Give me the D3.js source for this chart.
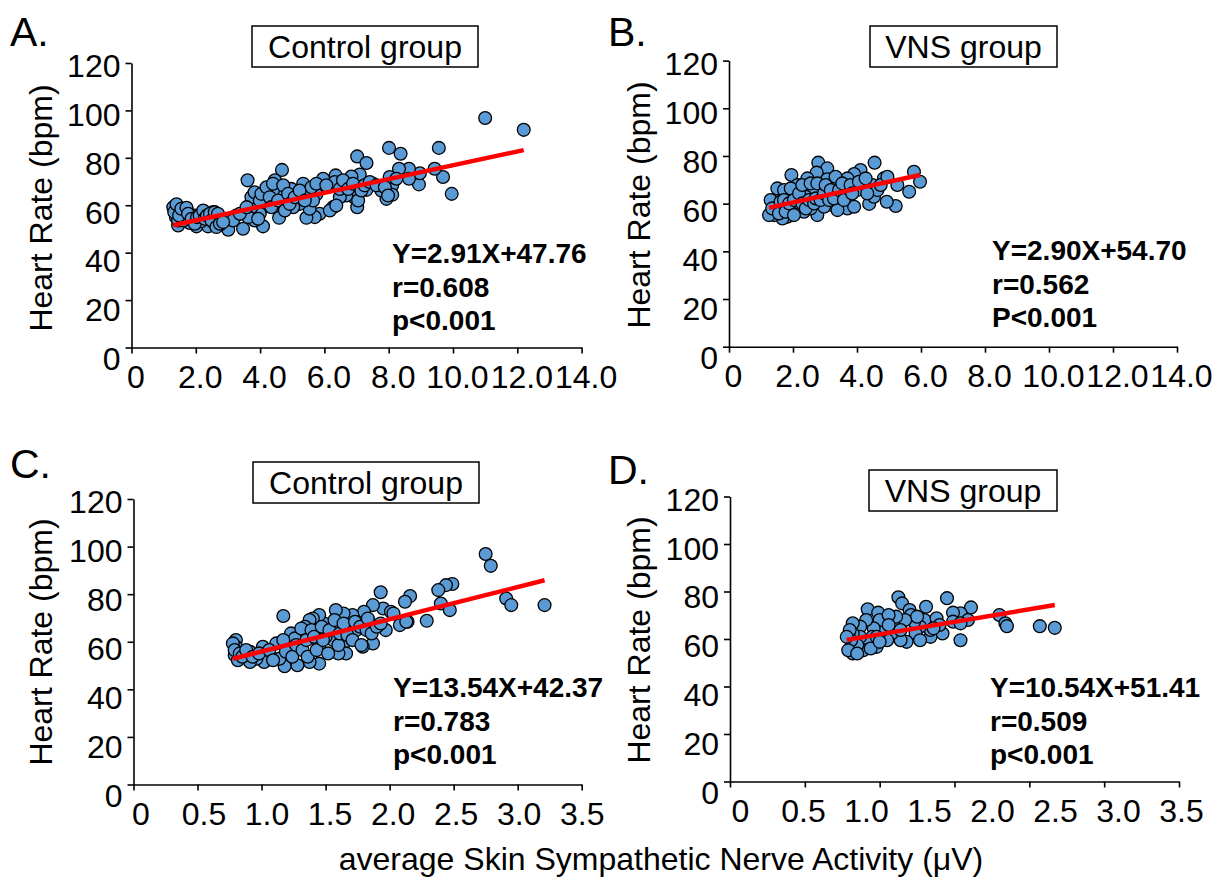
<!DOCTYPE html>
<html>
<head>
<meta charset="utf-8">
<script src="https://cdn.jsdelivr.net/npm/d3@7"></script>
<style>
  html, body { margin: 0; padding: 0; background: #fff; }
  svg { display: block; }
  text { font-family: "Liberation Sans", Arial, sans-serif; fill: #000; }
</style>
</head>
<body>
<svg id="chart" width="1221" height="882"></svg>
<script>
// ---------------- DATA ----------------
const panelLetters = ["A.", "B.", "C.", "D."];
const panelTitles = ["Control group", "VNS group", "Control group", "VNS group"];
const yTicks = [0, 20, 40, 60, 80, 100, 120];
const yTickLabels = ["0", "20", "40", "60", "80", "100", "120"];
const xTicksTop = [0, 2, 4, 6, 8, 10, 12, 14];
const xTickLabelsTop = ["0", "2.0", "4.0", "6.0", "8.0", "10.0", "12.0", "14.0"];
const xTicksC = [0, 0.5, 1, 1.5, 2, 2.5, 3, 3.5];
const xTickLabelsC = ["0", "0.5", "1.0", "1.5", "2.0", "2.5", "3.0", "3.5"];
const xTicksD = [0, 0.5, 1, 1.5, 2, 2.5, 3];
const xTickLabelsD = ["0", "0.5", "1.0", "1.5", "2.0", "2.5", "3.0", "3.5"];
const slopes = [2.91, 2.90, 13.54, 10.54];
const intercepts = [47.76, 54.70, 42.37, 51.41];
const statLines = [
  ["Y=2.91X+47.76", "r=0.608", "p<0.001"],
  ["Y=2.90X+54.70", "r=0.562", "P<0.001"],
  ["Y=13.54X+42.37", "r=0.783", "p<0.001"],
  ["Y=10.54X+51.41", "r=0.509", "p<0.001"]
];
const yAxisTitle = "Heart Rate (bpm)";
const xAxisTitle = "average Skin Sympathetic Nerve Activity (\u03bcV)";

// A: Control group, SSNA (uV) vs HR
const controlA = [
[11.0,96.8],[12.2,91.8],[8.01,84.2],[8.37,81.7],[9.56,84.2],[7.02,80.6],[7.31,77.8],[4.68,74.9],[3.61,70.5],[9.96,64.8],
[9.69,71.9],[9.43,75.4],[8.94,68.8],[8.97,73.5],[8.63,75.4],[8.32,75.4],[8.63,71.2],[8.11,68.4],[8.11,64.4],[7.93,62.7],
[7.77,66.2],[8.03,71.9],[7.51,69.1],[7.31,66.5],[7.10,73.0],[6.84,72.1],[6.79,67.6],[6.94,63.2],[7.02,59.2],[6.68,64.1],
[6.48,63.4],[6.27,59.2],[6.35,72.6],[6.32,69.8],[5.96,71.2],[5.85,67.6],[5.75,64.6],[5.85,56.4],[5.70,55.0],[5.44,54.7],
[5.54,58.5],[5.65,62.0],[5.34,69.1],[5.34,64.8],[5.23,60.6],[5.03,59.2],[4.97,66.9],[4.82,62.0],[4.61,57.8],[4.59,54.7],
[4.51,66.2],[4.46,70.5],[4.40,66.2],[4.28,62.0],[4.20,64.8],[4.09,59.2],[3.99,56.4],[4.09,51.1],[3.89,62.0],[3.78,64.1],
[3.73,59.2],[3.83,53.6],[3.47,50.1],[3.63,55.0],[3.26,55.7],[3.01,49.7],[3.16,53.6],[2.75,51.9],[2.64,55.7],[2.54,57.1],
[2.33,54.3],[2.38,51.1],[2.28,57.1],[2.02,51.1],[1.97,55.7],[1.81,52.5],[1.71,58.5],[1.50,56.4],[1.45,51.5],[1.38,59.9],
[1.35,57.8],[1.38,55.0],[1.45,53.6],[1.61,53.6],[2.18,53.3],[2.54,52.9],
[1.30,59.2],[1.33,57.1],[1.40,60.4],[1.48,55.7],[1.55,58.5],[1.71,58.9],[1.76,56.4],[1.87,54.3],[1.97,52.2],[2.04,55.0],
[2.12,55.7],[2.23,57.8],[2.28,54.3],[2.35,55.7],[2.44,56.4],[2.49,53.6],[2.59,57.1],[2.69,56.4],[2.64,50.8],[2.75,52.2],
[2.85,52.9],
[3.73,63.4],[3.83,65.5],[3.99,62.0],[4.04,64.8],[4.20,67.6],[4.30,63.4],[4.35,59.2],[4.40,69.1],[4.56,62.0],[4.72,68.4],
[4.77,57.8],[4.87,64.8],[4.92,60.6],[3.37,56.4],[3.58,59.2],[3.94,54.3],
[5.08,63.4],[5.23,66.2],[5.39,62.0],[5.60,67.6],[5.75,69.1],[6.06,68.4],[6.17,57.8],[6.37,59.9],[6.48,66.9],[6.58,70.5],
[6.74,66.9],[6.89,69.1],[7.05,62.0],[7.15,66.2],[7.25,68.4],[7.41,69.8],[7.62,68.4],[7.88,67.6],[7.98,64.1],[8.24,71.2]
];

// B: VNS group, SSNA (uV) vs HR
const vnsB = [
[4.55,77.2],[2.79,77.2],[3.07,74.8],[2.74,73.0],[1.95,72.0],[5.78,73.4],[5.97,69.2],[5.63,65.0],[5.21,59.0],[4.93,60.8],
[4.38,59.9],[4.53,62.9],[4.84,70.6],[5.26,67.8],[4.48,67.8],[4.11,74.1],[3.91,72.4],[3.70,70.6],[3.39,67.8],[3.23,59.4],
[3.70,58.0],[3.91,58.7],[3.39,57.3],[3.07,70.2],[2.86,65.7],[2.76,55.2],[2.66,65.0],[2.45,70.6],[2.40,62.9],[2.34,56.6],
[2.14,58.7],[2.14,67.8],[2.24,62.2],[1.82,64.3],[1.82,54.5],[1.67,53.8],[1.56,62.9],[1.51,66.4],[1.72,65.7],[1.46,60.1],
[1.41,55.2],[1.25,55.2],[1.67,58.7],[1.98,55.9],[2.55,58.0],[2.97,58.7],[3.49,63.6],[4.01,65.7],[4.22,68.5],[4.64,65.7],
[3.33,71.3],
[1.30,61.5],[1.35,58.0],[1.56,55.9],[1.61,60.8],[1.72,61.5],[1.77,56.6],[1.88,60.1],[1.93,66.4],[2.03,61.5],[2.03,55.2],
[2.19,64.3],[2.29,60.1],[2.29,67.8],[2.40,58.0],[2.50,61.5],[2.55,68.5],[2.66,60.1],[2.71,62.2],[2.76,68.5],[2.86,61.5],
[2.97,64.3],[3.02,67.8],[3.13,61.5],[3.18,65.7],[3.28,62.2],[3.44,65.7],[3.54,68.5],[3.59,61.5],[3.80,67.8],[3.85,64.3],
[4.06,69.2],[4.27,70.6],[4.32,64.3],[4.74,67.8],[4.95,71.3]
];

// C: Control group
const controlC = [
[2.75,96.9],[2.79,91.9],[3.21,75.4],[2.91,78.2],[2.95,75.4],[2.49,84.3],[2.44,83.8],[2.38,81.7],[2.40,76.1],[2.47,73.3],
[2.29,68.8],[2.16,79.2],[2.12,76.8],[2.14,68.4],[2.08,67.0],[1.93,80.8],[1.95,74.0],[2.01,72.6],[1.97,64.9],[1.87,75.4],
[1.80,72.6],[1.84,68.4],[1.87,59.3],[1.79,57.9],[1.71,71.2],[1.69,66.3],[1.64,71.9],[1.58,73.3],[1.64,59.3],[1.66,55.1],
[1.60,55.1],[1.56,60.7],[1.49,67.7],[1.45,71.2],[1.40,69.8],[1.375,69.1],[1.34,66.3],[1.30,63.5],[1.23,63.5],[1.26,61.4],
[1.45,58.6],[1.45,50.8],[1.375,51.5],[1.28,50.1],[1.18,49.7],[1.17,70.8],[1.14,52.9],[1.22,57.2],[1.115,59.3],[1.01,57.9],
[1.02,51.5],[0.96,52.9],[0.91,51.5],[0.91,55.8],[0.80,60.7],[0.80,57.9],[0.79,54.4],[0.815,52.2],[1.50,62.1],[1.74,64.9],
[0.776,59.3],[0.79,56.5],[0.83,55.1],[0.85,53.7],[0.88,56.5],[0.93,53.7],[0.98,55.1],[1.06,56.5],[1.09,52.2],[1.17,60.7],
[1.19,55.8],[1.24,53.7],[1.27,58.6],[1.31,65.6],[1.32,56.5],[1.35,60.7],[1.36,53.7],[1.39,64.9],[1.41,62.1],[1.43,56.5],
[1.47,66.3],[1.48,60.7],[1.52,55.1],[1.53,64.9],[1.57,69.1],[1.60,58.6],[1.61,63.5],[1.64,67.7],[1.67,62.8],[1.71,60.7],
[1.73,68.4],[1.77,66.3],[1.78,58.6],[1.82,64.9],[1.83,69.8],[1.86,63.5],[1.90,66.3],[1.93,67.7],[2.03,71.9],[2.13,68.4]
];

// D: VNS group
const vnsD = [
[1.125,77.6],[1.15,75.0],[1.45,77.2],[0.92,72.5],[0.99,71.1],[1.61,73.3],[1.54,70.8],[1.49,71.1],[1.31,73.6],[1.20,72.2],
[1.21,70.1],[1.80,70.1],[1.84,66.6],[1.85,65.4],[2.07,65.4],[2.17,64.7],[1.59,68.0],[1.54,59.5],[1.42,62.3],[1.34,60.9],
[1.34,63.8],[1.30,68.0],[1.27,65.2],[1.24,62.3],[1.23,67.3],[1.18,58.8],[1.14,59.5],[1.09,66.6],[1.08,62.3],[1.05,59.5],
[1.02,63.8],[1.00,68.0],[0.98,56.7],[0.96,64.5],[0.95,60.9],[0.91,68.0],[0.91,58.8],[0.89,55.3],[0.87,65.2],[0.87,60.9],
[0.85,57.4],[0.82,66.6],[0.82,62.3],[0.82,53.9],[0.81,59.5],[0.80,63.8],[0.79,55.3],[0.78,60.9],[1.38,68.7],[1.40,65.9],
[1.25,69.4],[1.17,68.0],[1.11,69.4],[1.06,70.1],[1.06,65.9],[0.98,60.9],[1.14,63.8],[1.27,59.5],[1.36,64.5],[1.49,67.3],
[1.54,66.6],[0.85,53.9],[0.94,56.0],[1.00,58.8]
];

const panelData = [controlA, vnsB, controlC, vnsD];

// ---------------- LAYOUT ----------------
const FONT = 32;
const layout = [
  { xDom:[0,14],  xRange:[131.5,581.6], y0:347.5, y120:63.0,
    xTicks:xTicksTop, xLabVals:xTicksTop, xLabels:xTickLabelsTop, labDom:[0,14], labRange:[135.5,585.6],
    letter:[10,46], box:[252,26,226,41], stat:[392,263], ytitle:[52,208] },
  { xDom:[0,14],  xRange:[729,1177], y0:346.7, y120:60.6,
    xTicks:xTicksTop, xLabVals:xTicksTop, xLabels:xTickLabelsTop, labDom:[0,14], labRange:[733,1181],
    letter:[608,46], box:[870,26,187,41], stat:[992,260], ytitle:[650,205] },
  { xDom:[0,3.5], xRange:[133.5,581.7], y0:784.5, y120:499.0,
    xTicks:xTicksC, xLabVals:xTicksC, xLabels:xTickLabelsC, labDom:[0,3.5], labRange:[140.5,581.7],
    letter:[10,478], box:[253,462,226,41], stat:[393,697], ytitle:[52,642] },
  { xDom:[0,3],   xRange:[730,1179], y0:781.5, y120:496.5,
    xTicks:xTicksD, xLabVals:xTicksC, xLabels:xTickLabelsD, labDom:[0,3.5], labRange:[740,1181],
    letter:[608,484], box:[869,470,188,41], stat:[990,697], ytitle:[650,640] }
];

const svg = d3.select("#chart");

layout.forEach((L, i) => {
  const g = svg.append("g");
  const x = d3.scaleLinear().domain(L.xDom).range(L.xRange);
  const y = d3.scaleLinear().domain([0,120]).range([L.y0, L.y120]);
  const yLab = d3.scaleLinear().domain([0,120]).range([L.y0 + 11.5, L.y120 + 3.5]);
  const xLab = d3.scaleLinear().domain(L.labDom).range(L.labRange);

  // Axis lines and tick marks
  const gx = g.append("g").attr("transform", `translate(0,${L.y0})`)
    .call(d3.axisBottom(x).tickValues(L.xTicks).tickSize(6).tickSizeOuter(0).tickFormat(""));
  const gy = g.append("g").attr("transform", `translate(${L.xRange[0]},0)`)
    .call(d3.axisLeft(y).tickValues(yTicks).tickSize(6).tickSizeOuter(0).tickFormat(""));
  [gx, gy].forEach(a => {
    a.selectAll("path, line").attr("stroke", "#000").attr("stroke-width", 1.6);
  });

  // Tick labels
  const lx = g.append("g").attr("transform", `translate(0,${L.y0})`)
    .call(d3.axisBottom(xLab).tickValues(L.xLabVals).tickSize(0).tickPadding(18)
      .tickFormat((d, k) => L.xLabels[k]));
  const ly = g.append("g").attr("transform", `translate(${L.xRange[0]},0)`)
    .call(d3.axisLeft(yLab).tickValues(yTicks).tickSize(0).tickPadding(11)
      .tickFormat((d, k) => yTickLabels[k]));
  [lx, ly].forEach(a => {
    a.select(".domain").remove();
    a.selectAll("text").attr("font-size", FONT)
      .attr("font-family", "'Liberation Sans', Arial, sans-serif").attr("fill", "#000");
  });

  // Y axis title
  g.append("text")
    .attr("transform", `translate(${L.ytitle[0]},${L.ytitle[1]}) rotate(-90)`)
    .attr("text-anchor", "middle").attr("font-size", 32).text(yAxisTitle);

  // Panel letter
  g.append("text").attr("x", L.letter[0]).attr("y", L.letter[1])
    .attr("font-size", 41).text(panelLetters[i]);

  // Title box
  g.append("rect").attr("x", L.box[0]).attr("y", L.box[1])
    .attr("width", L.box[2]).attr("height", L.box[3])
    .attr("fill", "#fff").attr("stroke", "#000").attr("stroke-width", 1.5);
  g.append("text").attr("x", L.box[0] + L.box[2] / 2).attr("y", L.box[1] + L.box[3] / 2 + 11)
    .attr("text-anchor", "middle").attr("font-size", 32).text(panelTitles[i]);

  // Points
  const data = panelData[i];
  g.append("g").selectAll("circle").data(data).join("circle")
    .attr("cx", d => x(d[0])).attr("cy", d => y(d[1])).attr("r", 6.4)
    .attr("fill", "#5B9BD5").attr("stroke", "#000").attr("stroke-width", 1.3);

  // Regression line
  const ext = d3.extent(data, d => d[0]);
  const fit = ext.map(v => [v, slopes[i] * v + intercepts[i]]);
  g.append("path").datum(fit)
    .attr("d", d3.line().x(d => x(d[0])).y(d => y(d[1])))
    .attr("stroke", "#FF0000").attr("stroke-width", 4.5).attr("fill", "none");

  // Stats text
  const st = g.append("text").attr("font-size", 28).attr("font-weight", "bold");
  statLines[i].forEach((s, k) => {
    st.append("tspan").attr("x", L.stat[0]).attr("y", L.stat[1] + k * 33.5).text(s);
  });
});

// X axis title
svg.append("text").attr("x", 661).attr("y", 870).attr("text-anchor", "middle")
  .attr("font-size", 32).text(xAxisTitle);
</script>
</body>
</html>
